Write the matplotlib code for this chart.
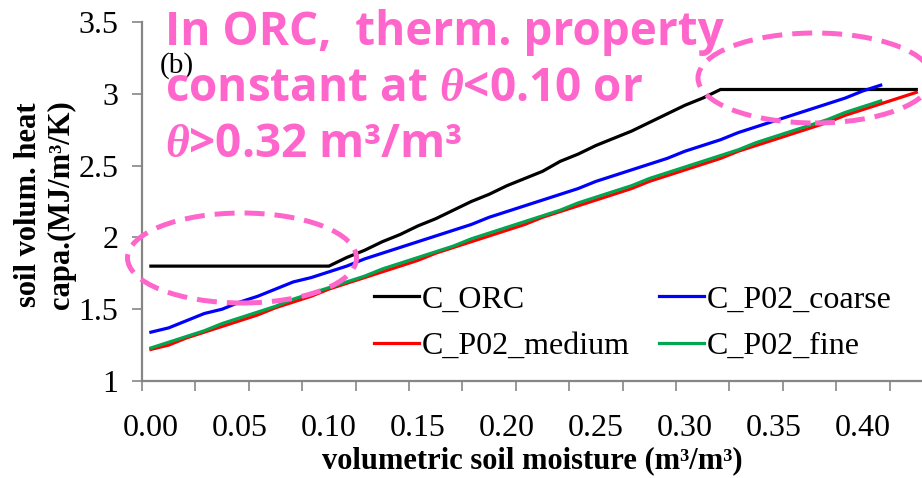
import numpy as np
import matplotlib
matplotlib.use("Agg")
import matplotlib.pyplot as plt
from matplotlib.patches import Ellipse
from matplotlib.ticker import FixedLocator, FuncFormatter

plt.rcParams['font.family'] = ['Liberation Serif', 'DejaVu Serif']
plt.rcParams['mathtext.fontset'] = 'custom'
plt.rcParams['mathtext.it'] = 'Liberation Serif:italic:bold'

# volumetric soil moisture classes (m3/m3)
theta = [0.00, 0.01, 0.02, 0.03, 0.04, 0.05, 0.06, 0.07, 0.08, 0.09,
         0.10, 0.11, 0.12, 0.13, 0.14, 0.15, 0.16, 0.17, 0.18, 0.19,
         0.20, 0.21, 0.22, 0.23, 0.24, 0.25, 0.26, 0.27, 0.28, 0.29,
         0.30, 0.31, 0.32, 0.33, 0.34, 0.35, 0.36, 0.37, 0.38, 0.39,
         0.40, 0.41, 0.42, 0.43]

# soil volumetric heat capacity (MJ/m3/K)
c_orc = [1.80, 1.80, 1.80, 1.80, 1.80, 1.80, 1.80, 1.80, 1.80, 1.80,
         1.80, 1.86, 1.91, 1.97, 2.02, 2.08, 2.13, 2.19, 2.25, 2.30,
         2.36, 2.41, 2.46, 2.53, 2.58, 2.64, 2.69, 2.74, 2.80, 2.86,
         2.92, 2.97, 3.03, 3.03, 3.03, 3.03, 3.03, 3.03, 3.03, 3.03,
         3.03, 3.03, 3.03, 3.03]
c_coarse = [1.34, 1.37, 1.42, 1.47, 1.50, 1.55, 1.59, 1.64, 1.69, 1.72,
            1.76, 1.80, 1.85, 1.89, 1.93, 1.97, 2.01, 2.05, 2.09, 2.14,
            2.18, 2.22, 2.26, 2.30, 2.34, 2.39, 2.43, 2.47, 2.51, 2.55,
            2.60, 2.64, 2.68, 2.73, 2.77, 2.81, 2.85, 2.89, 2.93, 2.97,
            3.02, 3.06]
c_medium = [1.22, 1.25, 1.30, 1.34, 1.38, 1.42, 1.46, 1.51, 1.55, 1.59,
            1.64, 1.68, 1.72, 1.76, 1.80, 1.84, 1.89, 1.93, 1.97, 2.01,
            2.05, 2.09, 2.14, 2.18, 2.22, 2.26, 2.30, 2.34, 2.39, 2.43,
            2.47, 2.51, 2.55, 2.60, 2.64, 2.68, 2.72, 2.76, 2.80, 2.85,
            2.89, 2.93, 2.97, 3.01]
c_fine = [1.23, 1.27, 1.31, 1.35, 1.40, 1.44, 1.48, 1.52, 1.57, 1.61,
          1.65, 1.69, 1.73, 1.78, 1.82, 1.86, 1.90, 1.94, 1.99, 2.03,
          2.07, 2.11, 2.15, 2.19, 2.24, 2.28, 2.32, 2.36, 2.41, 2.45,
          2.49, 2.53, 2.57, 2.61, 2.66, 2.70, 2.74, 2.78, 2.82, 2.87,
          2.91, 2.95]

series = [
    ("C_ORC", c_orc, "black"),
    ("C_P02_coarse", c_coarse, "#0000ff"),
    ("C_P02_medium", c_medium, "#ff0000"),
    ("C_P02_fine", c_fine, "#00a650"),
]

x_labels = ["0.00", "0.05", "0.10", "0.15", "0.20", "0.25", "0.30", "0.35", "0.40"]

pink = "#ff66cc"
grey = "#868686"

fig = plt.figure(figsize=(9.22, 4.78), dpi=100)
ax = fig.add_axes([142 / 922, 97 / 478, 780 / 922, 359 / 478])

lines = {}
for name, vals, col in series:
    lines[name], = ax.plot(theta[:len(vals)], vals, color=col, lw=2.3,
                           solid_joinstyle='round', label=name)

# category-style axis: each class is 0.01 wide, tick marks every 3 classes
ax.set_xlim(-0.005, 0.4332)
ax.set_ylim(1, 3.5)
ax.xaxis.set_major_locator(FixedLocator(np.arange(-0.005, 0.44, 0.03)))
ax.xaxis.set_major_formatter(FuncFormatter(lambda v, p: ""))
ax.xaxis.set_minor_locator(FixedLocator([float(s) for s in x_labels]))
ax.xaxis.set_minor_formatter(FuncFormatter(lambda v, p: "%.2f" % v))
ax.tick_params(axis='x', which='major', length=7, width=1.2, color=grey,
               direction='out')
ax.tick_params(axis='x', which='minor', length=0, pad=24, labelsize=23)

ax.yaxis.set_major_locator(FixedLocator([1, 1.5, 2, 2.5, 3, 3.5]))
ax.yaxis.set_major_formatter(FuncFormatter(lambda v, p: "%g" % v))
ax.tick_params(axis='y', length=7, width=1.2, color=grey, direction='out',
               pad=10, labelsize=23)

for s in ['top', 'right']:
    ax.spines[s].set_visible(False)
for s in ['left', 'bottom']:
    ax.spines[s].set_color(grey)
    ax.spines[s].set_linewidth(1.6)

order = ["C_ORC", "C_P02_medium", "C_P02_coarse", "C_P02_fine"]
ax.legend([lines[n] for n in order], order, ncol=2, frameon=False,
          loc='upper left', bbox_to_anchor=(374 / 922, 1 - 285 / 478),
          bbox_transform=fig.transFigure, borderpad=0, borderaxespad=0,
          fontsize=23, handlelength=1.41, handletextpad=0.1,
          columnspacing=0.9, labelspacing=0.55)

fig.text(532 / 922, 1 - 468 / 478, "volumetric soil moisture (m³/m³)",
         ha='center', va='baseline', fontsize=22, fontweight='bold')
fig.text(45 / 922, 1 - 205 / 478, "soil volum. heat\ncapa.(MJ/m³/K)",
         rotation=90, ha='center', va='center', multialignment='center',
         fontsize=22, fontweight='bold', linespacing=1.2)
fig.text(160 / 922, 1 - 73 / 478, "(b)", ha='left', va='baseline', fontsize=21)

# annotation
note = dict(color=pink, fontfamily='Open Sans', fontweight='bold', fontsize=33,
            ha='left', va='baseline')
fig.text(165 / 922, 1 - 45 / 478, "In ORC,  therm. property", **note)
fig.text(165 / 922, 1 - 101 / 478, r"constant at $\theta$<0.10 or", **note)
fig.text(165 / 922, 1 - 157 / 478, r"$\theta$>0.32 m³/m³", **note)

for cx, cy, w, h in [(242, 258, 229, 90), (815, 78, 234, 90)]:
    fig.add_artist(Ellipse((cx / 922, 1 - cy / 478), w / 922, h / 478,
                           transform=fig.transFigure, fill=False,
                           edgecolor=pink, lw=3.6, linestyle=(0, (4, 2))))

fig.savefig("out.png", dpi=100)
